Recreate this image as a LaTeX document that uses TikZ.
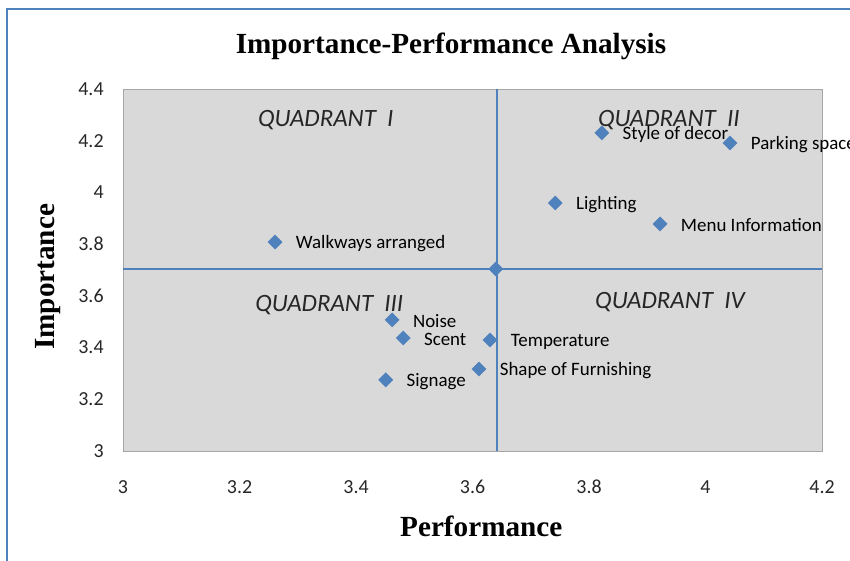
\documentclass[tikz,border=0pt]{standalone}
\usepackage{fontspec}
\setmainfont{Carlito}
\newfontfamily\timesfont{Liberation Serif}
\usetikzlibrary{positioning, shapes.geometric}
\definecolor{ipablue}{HTML}{4F81BD}
\definecolor{plotgray}{HTML}{D9D9D9}
\definecolor{edgegray}{HTML}{A6A6A6}

\begin{document}
\begin{tikzpicture}[x=582.5bp, y=258.6bp, every node/.style={font=\fontsize{19}{22}\selectfont}]
  \tikzset{pt/.style={diamond, aspect=1, fill=ipablue, inner sep=0pt, minimum size=15bp},
    ptlabel/.style={inner sep=0pt, right=13bp of #1, yshift=-1.5bp},
    ticklabel/.style={inner sep=0pt, text=black!85, font=\fontsize{20}{24}\selectfont},
    quad/.style={font=\itshape\fontsize{25}{30}\selectfont, text=black!85},
    axistitle/.style={font=\timesfont\bfseries\fontsize{29.3}{34}\selectfont},
    meanline/.style={ipablue, line width=1.6bp}}
  \useasboundingbox (2.7888,2.5746) rectangle (4.2481,4.7440);

  % outer frame and plot area
  \draw[ipablue, line width=2bp] (2.8009,2.5746) -- (2.8009,4.7092) -- (4.2481,4.7092);
  \draw[edgegray, fill=plotgray] (3,3) rectangle (4.2,4.4);

  \node[axistitle] (title) at (3.563,4.563) {Importance-Performance Analysis};
  \node[axistitle] (xtitle) at (3.615,2.710) {Performance};
  \node[axistitle, rotate=90] (ytitle) at (2.871,3.673) {Importance};

  \foreach \v [count=\i] in {3,3.2,3.4,3.6,3.8,4,4.2,4.4}
    \node[ticklabel, anchor=east] (ylab\i) at (2.967,\v) {\v};
  \foreach \v [count=\i] in {3,3.2,3.4,3.6,3.8,4,4.2}
    \node[ticklabel] (xlab\i) at (\v,2.861) {\v};

  \node[quad] (q1) at (3.348,4.28) {QUADRANT\ \ I};
  \node[quad] (q2) at (3.937,4.28) {QUADRANT\ \ II};
  \node[quad] (q3) at (3.354,3.565) {QUADRANT\ \ III};
  \node[quad] (q4) at (3.939,3.576) {QUADRANT\ \ IV};

  % mean lines
  \coordinate (vbot) at (3.642,3);
  \coordinate (vtop) at (3.642,4.4);
  \coordinate (hleft) at (3,3.704);
  \coordinate (hright) at (4.2,3.704);
  \draw[meanline] (vbot) -- (vtop);
  \draw[meanline] (hleft) -- (hright);
  \node[pt] (mean) at (3.640,3.704) {};

  \foreach \nm/\px/\py/\txt in {walk/3.261/3.808/Walkways arranged,
      decor/3.822/4.230/Style of decor, parking/4.042/4.191/Parking space,
      light/3.742/3.959/Lighting, menu/3.922/3.878/Menu Information,
      noise/3.462/3.507/Noise, scent/3.481/3.437/Scent,
      temp/3.630/3.429/Temperature, shape/3.611/3.317/Shape of Furnishing,
      sign/3.451/3.275/Signage}{
    \node[pt] (\nm) at (\px,\py) {};
    \node[ptlabel=\nm] (\nm-lab) {\txt};
  }
\end{tikzpicture}
\end{document}
